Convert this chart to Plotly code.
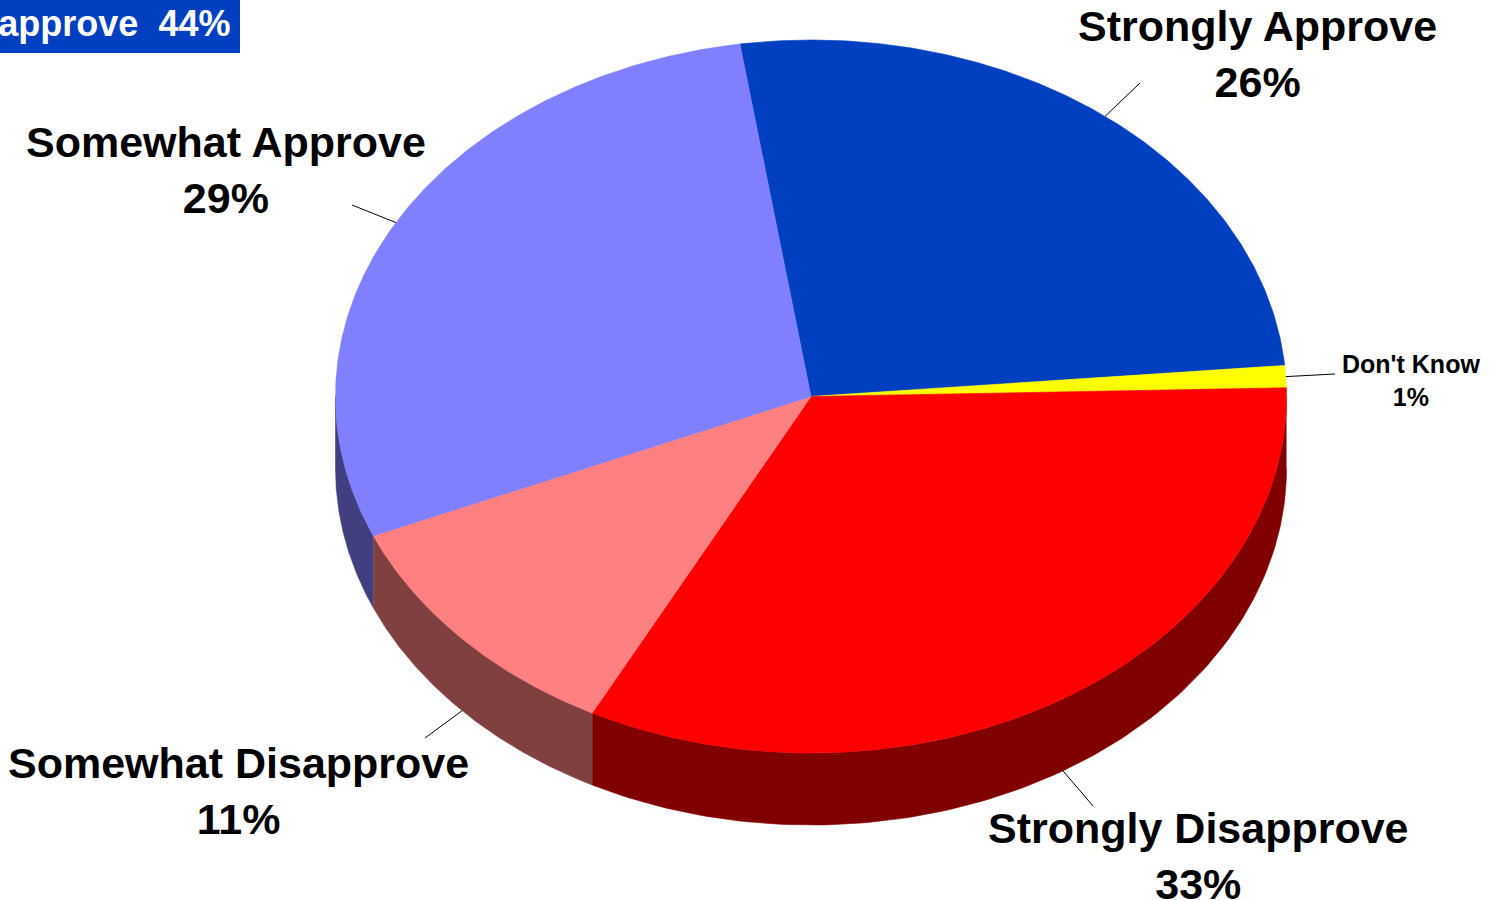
import numpy as np
import plotly.graph_objects as go

# ---- data ----
labels = ["Strongly Approve", "Don't Know", "Strongly Disapprove", "Somewhat Disapprove", "Somewhat Approve"]
values = [26, 1, 33, 11, 29]
top_colors = ["#0040C0", "#FFFF00", "#FF0000", "#FF8080", "#8080FF"]
side_colors = ["#002060", "#808000", "#800000", "#804040", "#404080"]
summary_text = "Total Disapprove\u00a0\u00a044%"

# ---- layout parameters (pixel space) ----
W, H = 1492, 900
CX, CY, RA, RB, DEPTH = 811.0, 396.5, 475.5, 356.5, 72.0
START_DEG = 98.6
label_pos = [(1257, 54, 43), (1411, 380, 25), (1198, 856, 43), (238, 791, 43), (226, 170, 43)]
leader_end = [(1140, 83), (1335, 374), (1093, 806), (425, 738), (352, 205)]

total = float(sum(values))
spans = [v / total * 360.0 for v in values]
starts = START_DEG - np.concatenate([[0.0], np.cumsum(spans)[:-1]])
ends = starts - np.array(spans)


def ex(t):
    return CX + RA * np.cos(np.radians(t))


def ey(t, dz=0.0):
    return CY - RB * np.sin(np.radians(t)) + dz


fig = go.Figure()

# sides (front half: t in [-180, 0])
for s, e, col in zip(starts, ends, side_colors):
    lo, hi = max(e, -180.0), min(s, 0.0)
    if hi <= lo:
        continue
    t = np.linspace(hi, lo, 120)
    xs = np.concatenate([ex(t), ex(t[::-1])])
    ys = np.concatenate([ey(t), ey(t[::-1], DEPTH)])
    fig.add_trace(go.Scatter(x=xs, y=ys, mode="lines", fill="toself", fillcolor=col,
                             line=dict(color=col, width=0.6), hoverinfo="skip", showlegend=False))

# top faces
for s, e, col in zip(starts, ends, top_colors):
    n = max(int(abs(s - e) * 2), 4)
    t = np.linspace(s, e, n)
    xs = np.concatenate([[CX], ex(t), [CX]])
    ys = np.concatenate([[CY], ey(t), [CY]])
    fig.add_trace(go.Scatter(x=xs, y=ys, mode="lines", fill="toself", fillcolor=col,
                             line=dict(color=col, width=0.6), hoverinfo="skip", showlegend=False))

# leader lines + labels
for i, (lab, v) in enumerate(zip(labels, values)):
    mid = (starts[i] + ends[i]) / 2.0
    dz = DEPTH if np.sin(np.radians(mid)) < 0 else 0.0
    px, py = ex(mid), ey(mid, dz)
    lx, ly = leader_end[i]
    fig.add_trace(go.Scatter(x=[px, lx], y=[py, ly], mode="lines",
                             line=dict(color="#000000", width=1), hoverinfo="skip", showlegend=False))
    x, y, fs = label_pos[i]
    fig.add_annotation(x=x, y=y, xref="x", yref="y", text=f"{lab}<br>{v}%", showarrow=False,
                       xanchor="center", yanchor="middle", align="center",
                       font=dict(family="Liberation Sans, Arial", size=fs, color="#000000", weight="bold"))

# summary box (cut off at left edge)
fig.add_shape(type="rect", xref="x", yref="y", x0=-400, x1=240, y0=0, y1=53,
              fillcolor="#0040C0", line=dict(width=0), layer="above")
fig.add_annotation(x=232, y=23, xref="x", yref="y", text=summary_text, showarrow=False,
                   xanchor="right", yanchor="middle",
                   font=dict(family="Liberation Sans, Arial", size=36, color="#FFFFFF", weight="bold"))

fig.update_layout(width=W, height=H, margin=dict(l=0, r=0, t=0, b=0),
                  paper_bgcolor="white", plot_bgcolor="white", showlegend=False)
fig.update_xaxes(range=[0, W], visible=False, fixedrange=True)
fig.update_yaxes(range=[H, 0], visible=False, fixedrange=True)

fig.write_html("out.html", config={"displayModeBar": False},
               post_script="document.body.style.margin='0';document.body.style.overflow='hidden';")
